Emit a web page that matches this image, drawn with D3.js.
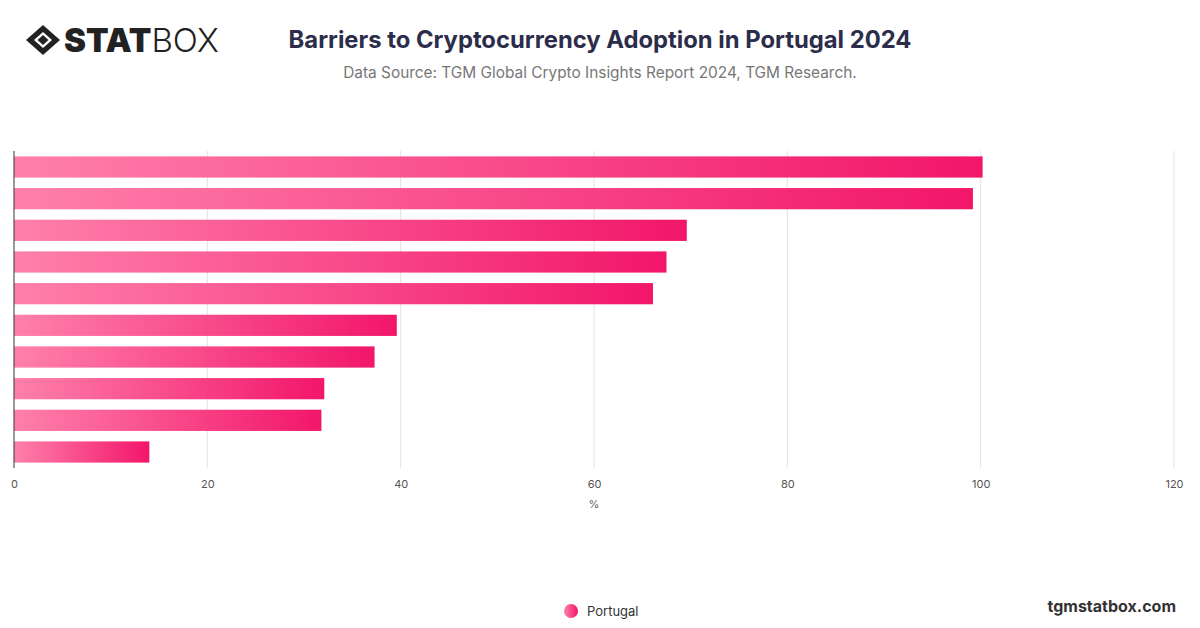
<!DOCTYPE html>
<html>
<head>
<meta charset="utf-8">
<script src="https://cdn.jsdelivr.net/npm/d3@7"></script>
<style>
  body { margin: 0; background: #fff; font-family: Inter, "Noto Sans", sans-serif; }
</style>
</head>
<body>
<script>
// Data
const barriers = ['Barrier 1', 'Barrier 2', 'Barrier 3', 'Barrier 4', 'Barrier 5',
  'Barrier 6', 'Barrier 7', 'Barrier 8', 'Barrier 9', 'Barrier 10']
const values = [100.2, 99.2, 69.6, 67.5, 66.1, 39.6, 37.3, 32.1, 31.8, 14.0]
const xTicks = [0, 20, 40, 60, 80, 100, 120]

const width = 1200
const height = 628
const plotLeft = 14
const plotRight = 1174
const plotTop = 151
const plotBottom = 468

const svg = d3.select('body').append('svg')
  .attr('width', width)
  .attr('height', height)

// Gradient for bars
const grad = svg.append('defs').append('linearGradient')
  .attr('id', 'barGrad')
  .attr('x1', 0).attr('x2', 1).attr('y1', 0).attr('y2', 0)
grad.append('stop').attr('offset', '0%').attr('stop-color', '#ff80ab')
grad.append('stop').attr('offset', '100%').attr('stop-color', '#f2166a')

// Logo
const logo = svg.append('g').attr('transform', 'translate(26, 25)')
logo.append('path')
  .attr('d', 'M17 0 L34 15 L17 30 L0 15 Z')
  .attr('fill', '#222')
logo.append('path')
  .attr('d', 'M17 7 L26 15 L17 23 L8 15 Z')
  .attr('fill', '#fff')
logo.append('path')
  .attr('d', 'M17 10 L22.5 15 L17 20 L11.5 15 Z')
  .attr('fill', '#222')
logo.append('text')
  .attr('x', 38).attr('y', 27)
  .style('font-family', 'Inter, sans-serif')
  .style('font-size', '33px')
  .style('fill', '#222')
  .call(t => {
    t.append('tspan').text('STAT').style('font-weight', 900)
    t.append('tspan').text('BOX').style('font-weight', 300)
  })

// Title
svg.append('text')
  .attr('x', 600).attr('y', 48)
  .attr('text-anchor', 'middle')
  .style('font-size', '23.8px')
  .style('font-weight', 700)
  .style('fill', '#2b2d4a')
  .text('Barriers to Cryptocurrency Adoption in Portugal 2024')

svg.append('text')
  .attr('x', 600).attr('y', 78)
  .attr('text-anchor', 'middle')
  .style('font-size', '15.4px')
  .style('fill', '#777')
  .text('Data Source: TGM Global Crypto Insights Report 2024, TGM Research.')

// Scales
const x = d3.scaleLinear().domain([0, 120]).range([plotLeft, plotRight])
const y = d3.scaleBand().domain(barriers).range([plotTop, plotBottom]).paddingInner(0.33).paddingOuter(0.17)

// Grid
svg.append('g')
  .selectAll('line')
  .data(xTicks.slice(1))
  .join('line')
  .attr('x1', d => x(d)).attr('x2', d => x(d))
  .attr('y1', plotTop).attr('y2', plotBottom)
  .attr('stroke', '#e2e2e2')

// X axis
const xAxis = svg.append('g')
  .attr('transform', `translate(0, ${plotBottom})`)
  .call(d3.axisBottom(x).tickValues(xTicks).tickSize(0).tickPadding(12))
xAxis.select('.domain').remove()
xAxis.selectAll('text')
  .style('font-family', 'Inter, sans-serif')
  .style('font-size', '11px')
  .style('fill', '#555')

svg.append('text')
  .attr('x', (plotLeft + plotRight) / 2).attr('y', 508)
  .attr('text-anchor', 'middle')
  .style('font-size', '11px')
  .style('fill', '#666')
  .text('%')

// Bars
svg.append('g')
  .selectAll('rect')
  .data(values)
  .join('rect')
  .attr('x', x(0))
  .attr('y', (d, i) => y(barriers[i]))
  .attr('width', d => x(d) - x(0))
  .attr('height', y.bandwidth())
  .attr('fill', 'url(#barGrad)')

// Y axis line
svg.append('line')
  .attr('x1', plotLeft).attr('x2', plotLeft)
  .attr('y1', plotTop).attr('y2', plotBottom)
  .attr('stroke', '#333')

// Legend
svg.append('circle')
  .attr('cx', 571).attr('cy', 611).attr('r', 7)
  .attr('fill', 'url(#barGrad)')
svg.append('text')
  .attr('x', 587).attr('y', 616)
  .style('font-size', '13px')
  .style('fill', '#333')
  .text('Portugal')

// Footer
svg.append('text')
  .attr('x', 1176).attr('y', 612)
  .attr('text-anchor', 'end')
  .style('font-size', '16px')
  .style('font-weight', 700)
  .style('fill', '#333')
  .text('tgmstatbox.com')
</script>
</body>
</html>
